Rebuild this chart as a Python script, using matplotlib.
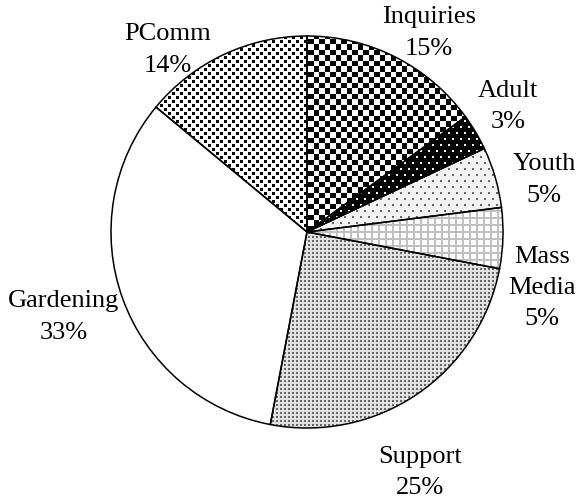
import numpy as np
import matplotlib.pyplot as plt

# data
categories = ['Inquiries', 'Adult', 'Youth', 'Mass\nMedia', 'Support', 'Gardening', 'PComm']
shares = [15, 3, 5, 5, 25, 33, 14]

# label centres (pie radius = 1)
label_pos = [(0.622, 1.015), (1.026, 0.640), (1.209, 0.265), (1.199, -0.286),
             (0.577, -1.228), (-1.240, -0.434), (-0.709, 0.929)]

W, H = 579, 501
cx, cy, R = 307, 232, 196  # pixel centre / radius of the pie

plt.rcParams['font.family'] = ['Liberation Serif', 'DejaVu Serif']

fig = plt.figure(figsize=(W / 100, H / 100), dpi=100)
ax = fig.add_axes([0, 0, 1, 1])

xlim = (-cx / R, (W - cx) / R)
ylim = (-(H - cy) / R, cy / R)


#%% textures, one pixel per array cell
yy, xx = np.mgrid[0:H, 0:W]

def solid(v):
    return np.full((H, W), v, dtype=float)

def stagger(px, py, dx, dy):
    a = ((xx % px) < dx) & ((yy % py) < dy)
    b = (((xx + px // 2) % px) < dx) & (((yy + py // 2) % py) < dy)
    return a | b

def tex_checker():
    t = ((xx % 11) < 6) ^ ((yy % 11) < 6)
    return np.where(t, 0.0, 1.0)

def tex_adult():
    return np.where(stagger(8, 12, 2, 2), 0.95, 0.0)

def tex_youth():
    return np.where(stagger(8, 12, 2, 2), 0.40, 0.95)

def tex_grid():
    g = ((xx % 7) < 2) | ((yy % 7) < 2)
    return np.where(g, 0.75, 1.0)

def tex_support():
    d = ((xx % 4) < 2) & ((yy % 4) < 2)
    return np.where(d, 0.40, 0.88)

def tex_pcomm():
    return np.where(stagger(8, 8, 3, 3), 0.0, 1.0)

textures = [tex_checker(), tex_adult(), tex_youth(), tex_grid(),
            tex_support(), solid(1.0), tex_pcomm()]


#%% pie
wedges, _ = ax.pie(shares, startangle=90, counterclock=False,
                   colors=['none'] * len(shares),
                   wedgeprops=dict(edgecolor='black', linewidth=1.1))

for w, t in zip(wedges, textures):
    w.set_zorder(3)
    im = ax.imshow(t, cmap='gray', vmin=0, vmax=1, interpolation='nearest',
                   extent=(xlim[0], xlim[1], ylim[0], ylim[1]), zorder=1)
    im.set_clip_path(w)

for name, s, (lx, ly) in zip(categories, shares, label_pos):
    ax.text(lx, ly, f'{name}\n{s}%', ha='center', va='center',
            fontsize=19, linespacing=1.55)

ax.set_aspect('auto')
ax.set_xlim(*xlim)
ax.set_ylim(*ylim)
ax.axis('off')

fig.savefig('out.png', dpi=100)
